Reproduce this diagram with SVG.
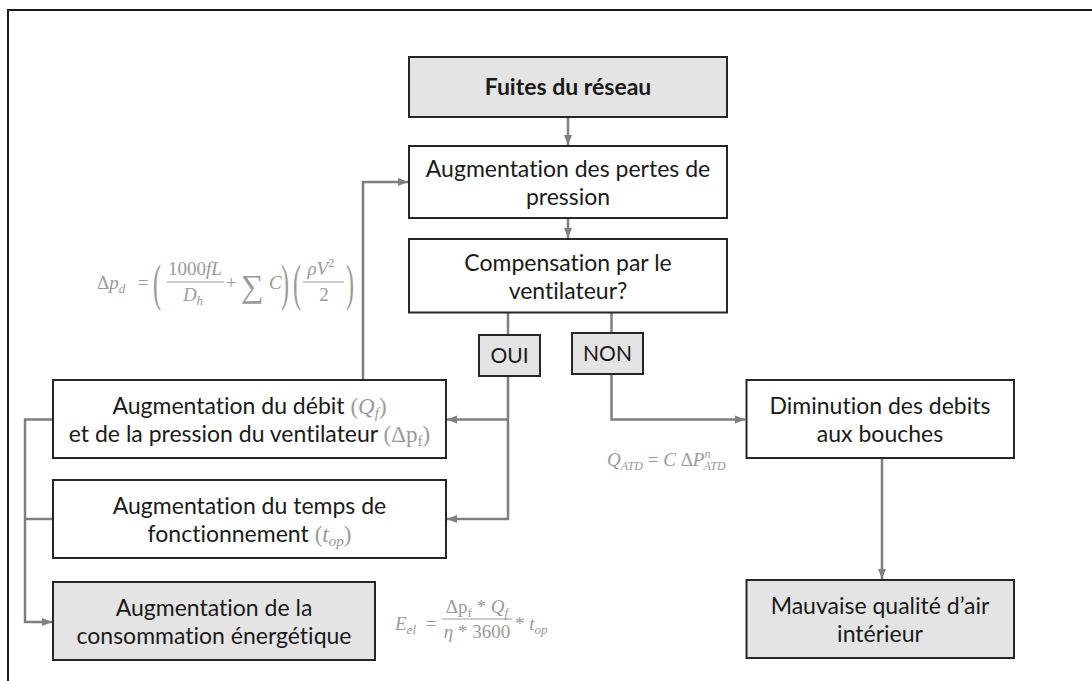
<svg xmlns="http://www.w3.org/2000/svg" width="1092" height="681" viewBox="0 0 1092 681">
  <style>
    .box { fill: #ffffff; stroke: #262626; stroke-width: 2; }
    .grey { fill: #e4e4e4; stroke: #262626; stroke-width: 2; }
    .lbl { font-family: Lato, "Liberation Sans", sans-serif; font-size: 23px; fill: #1a1a1a; text-anchor: middle; font-variant-ligatures: none; }
    .tag { font-size: 21px; }
    .bold { font-weight: bold; }
    .math { font-family: "Liberation Serif", serif; fill: #9a9a9a; font-style: italic; }
    .up { font-style: normal; }
    .wire { fill: none; stroke: #7f7f7f; stroke-width: 2.5; }
    .bar { stroke: #9a9a9a; stroke-width: 1; }
  </style>
  <defs>
    <marker id="arrow" markerUnits="userSpaceOnUse" markerWidth="10" markerHeight="10" viewBox="0 0 10 10" refX="10" refY="5" orient="auto">
      <path d="M0,1 L10,5 L0,9 Z" fill="#7f7f7f"/>
    </marker>
  </defs>

  <rect width="1092" height="681" fill="#ffffff"/>
  <!-- page frame (only top and left edges fall on the sheet) -->
  <path d="M8,681 L8,10 L1092,10" fill="none" stroke="#1a1a1a" stroke-width="2"/>

  <!-- connectors -->
  <g id="connectors">
    <path class="wire" d="M568,117 L568,145" marker-end="url(#arrow)"/>
    <path class="wire" d="M568,218 L568,238" marker-end="url(#arrow)"/>
    <path class="wire" d="M508,313 L508,335"/>
    <path class="wire" d="M611.5,313 L611.5,333"/>
    <path class="wire" d="M508,376 L508,519 L447,519" marker-end="url(#arrow)"/>
    <path class="wire" d="M508,419.5 L447,419.5" marker-end="url(#arrow)"/>
    <path class="wire" d="M611.5,374 L611.5,419.5 L745,419.5" marker-end="url(#arrow)"/>
    <path class="wire" d="M882,458 L882,579" marker-end="url(#arrow)"/>
    <path class="wire" d="M363,380 L363,182 L408,182" marker-end="url(#arrow)"/>
    <path class="wire" d="M53,419.5 L25,419.5 L25,622 L52,622" marker-end="url(#arrow)"/>
    <path class="wire" d="M53,519 L25,519"/>
  </g>

  <g id="fuites">
    <rect class="grey" x="409" y="57" width="318" height="60"/>
    <text class="lbl bold" x="568" y="95">Fuites du réseau</text>
  </g>

  <g id="pertes">
    <rect class="box" x="409" y="146" width="318" height="72"/>
    <text class="lbl" x="568" y="177">Augmentation des pertes de</text>
    <text class="lbl" x="568" y="205">pression</text>
  </g>

  <g id="compensation">
    <rect class="box" x="409" y="239" width="318" height="73.5"/>
    <text class="lbl" x="568" y="270.5">Compensation par le</text>
    <text class="lbl" x="568" y="298.5">ventilateur?</text>
  </g>

  <g id="oui">
    <rect class="grey" x="479" y="335" width="61" height="41"/>
    <text class="lbl tag" x="509.5" y="363">OUI</text>
  </g>

  <g id="non">
    <rect class="grey" x="572" y="333" width="71" height="41"/>
    <text class="lbl tag" x="607.5" y="361">NON</text>
  </g>

  <g id="debit">
    <rect class="box" x="53" y="380" width="393" height="78"/>
    <text class="lbl" x="249.5" y="414">Augmentation du débit <tspan class="math up">(</tspan><tspan class="math">Q</tspan><tspan class="math" font-size="15" dy="4">f</tspan><tspan class="math up" dy="-4">)</tspan></text>
    <text class="lbl" x="249.5" y="442">et de la pression du ventilateur <tspan class="math up">(Δp</tspan><tspan class="math up" font-size="15" dy="4">f</tspan><tspan class="math up" dy="-4">)</tspan></text>
  </g>

  <g id="temps">
    <rect class="box" x="53" y="480" width="393" height="78"/>
    <text class="lbl" x="249.5" y="514">Augmentation du temps de</text>
    <text class="lbl" x="249.5" y="542">fonctionnement <tspan class="math up">(</tspan><tspan class="math">t</tspan><tspan class="math" font-size="15" dy="4">op</tspan><tspan class="math up" dy="-4">)</tspan></text>
  </g>

  <g id="consommation">
    <rect class="grey" x="53" y="582" width="322" height="78"/>
    <text class="lbl" x="214" y="616">Augmentation de la</text>
    <text class="lbl" x="214" y="644">consommation énergétique</text>
  </g>

  <g id="diminution">
    <rect class="box" x="746.5" y="380" width="267.5" height="78"/>
    <text class="lbl" x="880" y="414">Diminution des debits</text>
    <text class="lbl" x="880" y="442">aux bouches</text>
  </g>

  <g id="mauvaise">
    <rect class="grey" x="746.5" y="580" width="267.5" height="78"/>
    <text class="lbl" x="880" y="614">Mauvaise qualité d’air</text>
    <text class="lbl" x="880" y="642">intérieur</text>
  </g>

  <!-- pressure-loss equation -->
  <g id="eq-pressure" class="math" font-size="19">
    <text x="97" y="289"><tspan class="up">Δ</tspan>p<tspan font-size="13" dy="4">d</tspan></text>
    <text x="143" y="289" class="up" text-anchor="middle">=</text>
    <text transform="translate(153,300) scale(1,2.1)" class="up" font-size="24">(</text>
    <text x="195" y="275" text-anchor="middle"><tspan class="up">1000</tspan>fL</text>
    <line class="bar" x1="167" y1="282" x2="224" y2="282"/>
    <text x="193" y="301" text-anchor="middle">D<tspan font-size="13" dy="4">h</tspan></text>
    <text x="231" y="289" class="up" text-anchor="middle">+</text>
    <text x="241" y="297" class="up" font-size="32">∑</text>
    <text x="269" y="289">C</text>
    <text transform="translate(281,300) scale(1,2.1)" class="up" font-size="24">)</text>
    <text transform="translate(293,300) scale(1,2.1)" class="up" font-size="24">(</text>
    <text x="321" y="275" text-anchor="middle">ρV<tspan class="up" font-size="13" dy="-8">2</tspan></text>
    <line class="bar" x1="303" y1="282" x2="344" y2="282"/>
    <text x="324" y="301" class="up" text-anchor="middle">2</text>
    <text transform="translate(346,300) scale(1,2.1)" class="up" font-size="24">)</text>
  </g>

  <!-- air terminal flow equation -->
  <g id="eq-flow" class="math" font-size="19">
    <text x="607" y="466">Q<tspan font-size="12" dy="4">ATD</tspan><tspan class="up" dy="-4"> = </tspan>C <tspan class="up">Δ</tspan>P<tspan font-size="12" dy="-8">n</tspan><tspan font-size="12" dx="-7" dy="12">ATD</tspan></text>
  </g>

  <!-- electrical energy equation -->
  <g id="eq-energy" class="math" font-size="19">
    <text x="395" y="630">E<tspan font-size="13" dy="4">el</tspan></text>
    <text x="431" y="630" class="up" text-anchor="middle">=</text>
    <text x="477" y="613" text-anchor="middle"><tspan class="up">Δp</tspan><tspan class="up" font-size="13" dy="4">f</tspan><tspan class="up" dy="-4"> * </tspan>Q<tspan font-size="13" dy="4">f</tspan></text>
    <line class="bar" x1="442" y1="619" x2="512" y2="619"/>
    <text x="477" y="638" text-anchor="middle">η<tspan class="up"> * 3600</tspan></text>
    <text x="515" y="630"><tspan class="up">* </tspan>t<tspan font-size="13" dy="4">op</tspan></text>
  </g>
</svg>
